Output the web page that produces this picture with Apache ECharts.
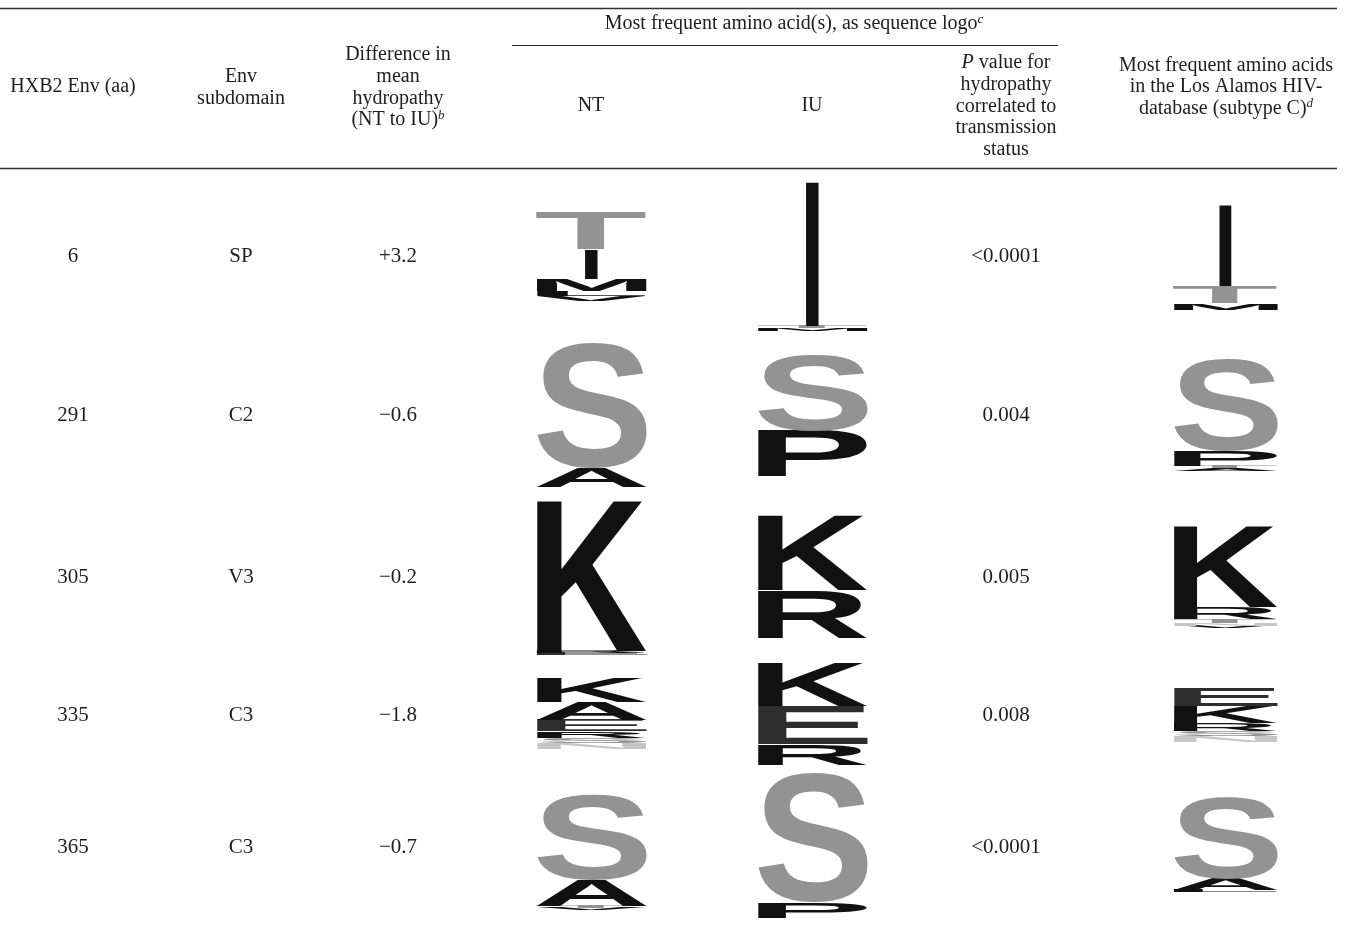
<!DOCTYPE html>
<html>
<head>
<meta charset="utf-8">
<title>Env hydropathy and sequence logos</title>
<script src="https://cdn.jsdelivr.net/npm/echarts@6/dist/echarts.min.js"></script>
<style>
  html, body { margin: 0; padding: 0; background: #fff; }
  #chart { width: 1349px; height: 926px; }
</style>
</head>
<body>
<div id="chart"></div>
<script>
// ---- Table data ----
const positions = ['6', '291', '305', '335', '365'];
const subdomains = ['SP', 'C2', 'V3', 'C3', 'C3'];
const hydropathyDiff = ['+3.2', '\u22120.6', '\u22120.2', '\u22121.8', '\u22120.7'];
const pValues = ['<0.0001', '0.004', '0.005', '0.008', '<0.0001'];

// Sequence logos: one stack per row, letters listed bottom to top, heights in bits
const logoNT = [
  [['V', 0.14], ['L', 0.14], ['M', 0.33], ['I', 0.83], ['T', 1.03]],
  [['A', 0.53], ['S', 3.47]],
  [['E', 0.06], ['R', 0.06], ['K', 4.22]],
  [['N', 0.17], ['S', 0.14], ['R', 0.19], ['E', 0.31], ['A', 0.50], ['K', 0.67]],
  [['V', 0.06], ['T', 0.06], ['A', 0.72], ['S', 2.36]]
];
const logoIU = [
  [['M', 0.08], ['T', 0.06], ['I', 4.03]],
  [['P', 1.28], ['S', 2.11]],
  [['R', 1.33], ['K', 2.08]],
  [['R', 0.58], ['E', 1.06], ['K', 1.22]],
  [['P', 0.44], ['S', 3.58]]
];
const logoLANL = [
  [['M', 0.19], ['T', 0.47], ['I', 2.28]],
  [['A', 0.08], ['T', 0.06], ['P', 0.42], ['S', 2.56]],
  [['V', 0.06], ['N', 0.08], ['T', 0.11], ['R', 0.33], ['K', 2.28]],
  [['N', 0.17], ['S', 0.14], ['R', 0.22], ['K', 0.47], ['E', 0.50]],
  [['L', 0.06], ['A', 0.31], ['S', 2.28]]
];

// Header text lines
const headHXB2 = ['HXB2 Env (aa)'];
const headSub = ['Env', 'subdomain'];
const headDiff = ['Difference in', 'mean', 'hydropathy', '(NT to IU){sup|b}'];
const headLogo = 'Most frequent amino acid(s), as sequence logo{sup|c}';
const headNT = 'NT';
const headIU = 'IU';
const headP = ['{it|P} value for', 'hydropathy', 'correlated to', 'transmission', 'status'];
const headLANL = ['Most frequent amino acids', 'in the Los Alamos HIV-', 'database (subtype C){sup|d}'];

// ---- Layout ----
const W = 1349, H = 926;
const rowY = [256, 415, 577, 715, 847];
const colX = { pos: 73, sub: 241, diff: 398, p: 1006 };
const BITS_MAX = 4.5;
const PX_PER_BIT = 36;
const logoCols = [
  { logo: logoNT, left: 536, width: 111, baselines: [301, 487, 655, 749, 910] },
  { logo: logoIU, left: 757, width: 111, baselines: [331, 477, 638, 765, 918] },
  { logo: logoLANL, left: 1173, width: 105, baselines: [310, 471, 628, 742, 892] }
];
const letterColor = { S: '#939393', T: '#939393', E: '#2e2e2e', N: '#c6c6c6' };
const LETTER_FONT = 'bold 100px "Liberation Sans", Arial, sans-serif';
const TEXT_FONT = '"Liberation Serif", "Times New Roman", serif';
const INK = '#1e1e1e';

// Ink bounds of each glyph, measured with the same baseline zrender draws with
const measureCtx = document.createElement('canvas').getContext('2d');
const metricCache = {};
function glyphMetrics(ch) {
  if (metricCache[ch]) return metricCache[ch];
  measureCtx.font = LETTER_FONT;
  measureCtx.textAlign = 'left';
  measureCtx.textBaseline = 'middle';
  const m = measureCtx.measureText(ch);
  const r = {
    l: m.actualBoundingBoxLeft, w: m.actualBoundingBoxLeft + m.actualBoundingBoxRight,
    a: m.actualBoundingBoxAscent, h: m.actualBoundingBoxAscent + m.actualBoundingBoxDescent
  };
  metricCache[ch] = r;
  return r;
}

const grids = [], xAxes = [], yAxes = [], series = [];
logoCols.forEach((col, c) => {
  col.logo.forEach((stack, r) => {
    const idx = grids.length;
    const gh = BITS_MAX * PX_PER_BIT;
    grids.push({ left: col.left, width: col.width, top: col.baselines[r] - gh, height: gh, containLabel: false });
    xAxes.push({ gridIndex: idx, type: 'category', data: [''], show: false });
    yAxes.push({ gridIndex: idx, type: 'value', min: 0, max: BITS_MAX, show: false });
    const letters = [];
    const data = [];
    let acc = 0;
    stack.forEach(([ch, bits]) => {
      letters.push(ch);
      data.push([0, acc, acc + bits]);
      acc += bits;
    });
    series.push({
      type: 'custom',
      xAxisIndex: idx,
      yAxisIndex: idx,
      silent: true,
      encode: { x: 0, y: [1, 2] },
      data: data,
      renderItem: function (params, api) {
        const ch = letters[params.dataIndex];
        const pBot = api.coord([0, api.value(1)]);
        const pTop = api.coord([0, api.value(2)]);
        const band = api.size([1, 0])[0];
        const bh = pBot[1] - pTop[1];
        if (bh < 0.3) return null;
        const bw = ch === 'I' ? band * 0.125 : band;
        const m = glyphMetrics(ch);
        const sx = bw / m.w, sy = bh / m.h;
        return {
          type: 'text',
          x: pBot[0] - bw / 2 + m.l * sx,
          y: pTop[1] + m.a * sy,
          scaleX: sx,
          scaleY: sy,
          style: {
            text: ch,
            font: LETTER_FONT,
            fill: letterColor[ch] || '#111',
            align: 'left',
            verticalAlign: 'middle'
          }
        };
      }
    });
  });
});

// ---- Table text and rules ----
const FS_HEAD = 20, FS_BODY = 21;
const rich = {
  sup: { fontSize: 13, fontStyle: 'italic', fontFamily: TEXT_FONT, fill: INK, verticalAlign: 'top', lineHeight: 12 },
  it: { fontSize: FS_HEAD, fontStyle: 'italic', fontFamily: TEXT_FONT, fill: INK }
};
function label(text, x, y, size, align) {
  return {
    type: 'text', x: x, y: y, silent: true,
    style: {
      text: text, fontSize: size, fontFamily: TEXT_FONT, fill: INK,
      align: align || 'center', verticalAlign: 'middle', lineHeight: 22, rich: rich
    }
  };
}
function hline(x1, x2, y, w) {
  return { type: 'line', silent: true, shape: { x1: x1, y1: y, x2: x2, y2: y }, style: { stroke: '#333', lineWidth: w || 1.3 } };
}
const elements = [
  hline(0, 1337, 8.5, 1.4),
  hline(512, 1058, 45.5, 1.2),
  hline(0, 1337, 168.5, 1.4)
];
headHXB2.forEach((t, i) => elements.push(label(t, colX.pos, 87 + i * 21.5, FS_HEAD)));
headSub.forEach((t, i) => elements.push(label(t, colX.sub, 77 + i * 21.5, FS_HEAD)));
headDiff.forEach((t, i) => elements.push(label(t, colX.diff, 55 + i * 21.7, FS_HEAD)));
elements.push(label(headLogo, 794, 24, FS_HEAD));
elements.push(label(headNT, 591, 106, FS_HEAD));
elements.push(label(headIU, 812, 106, FS_HEAD));
headP.forEach((t, i) => elements.push(label(t, colX.p, 63 + i * 21.7, FS_HEAD)));
headLANL.forEach((t, i) => elements.push(label(t, 1226, 66 + i * 21.2, FS_HEAD)));
rowY.forEach((y, i) => {
  elements.push(label(positions[i], colX.pos, y, FS_BODY));
  elements.push(label(subdomains[i], colX.sub, y, FS_BODY));
  elements.push(label(hydropathyDiff[i], colX.diff, y, FS_BODY));
  elements.push(label(pValues[i], colX.p, y, FS_BODY));
});

const chart = echarts.init(document.getElementById('chart'), null, { renderer: 'canvas', width: W, height: H });
chart.setOption({
  backgroundColor: '#fff',
  animation: false,
  grid: grids,
  xAxis: xAxes,
  yAxis: yAxes,
  series: series,
  graphic: { elements: elements }
});
</script>
</body>
</html>
